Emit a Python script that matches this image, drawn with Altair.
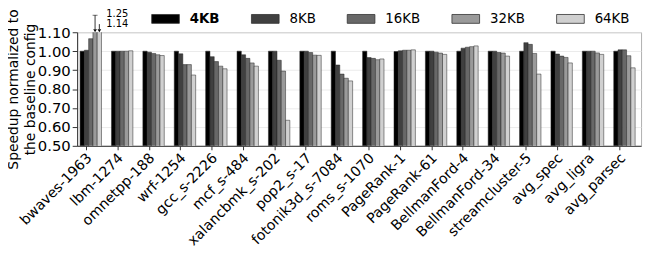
import altair as alt
import pandas as pd

categories = ["bwaves-1963", "lbm-1274", "omnetpp-188", "wrf-1254", "gcc_s-2226",
              "mcf_s-484", "xalancbmk_s-202", "pop2_s-17", "fotonik3d_s-7084",
              "roms_s-1070", "PageRank-1", "PageRank-61", "BellmanFord-4",
              "BellmanFord-34", "streamcluster-5", "avg_spec", "avg_ligra", "avg_parsec"]
series = ["4KB", "8KB", "16KB", "32KB", "64KB"]
v4 = [1.0, 1.0, 1.0, 1.0, 1.0, 1.0, 1.0, 1.0, 1.0, 1.0, 0.998, 1.0, 1.0, 1.0, 1.0, 1.0, 1.0, 1.0]
v8 = [1.005, 1.0, 0.995, 0.986, 0.971, 0.981, 1.0, 1.0, 0.927, 0.966, 1.002, 1.0, 1.016, 1.0, 1.045, 0.985, 1.0, 1.007]
v16 = [1.066, 1.0, 0.988, 0.929, 0.945, 0.962, 0.952, 0.993, 0.879, 0.962, 1.005, 0.995, 1.021, 0.993, 1.036, 0.974, 1.0, 1.007]
v32 = [1.25, 1.0, 0.981, 0.929, 0.921, 0.938, 0.895, 0.979, 0.857, 0.955, 1.005, 0.99, 1.024, 0.99, 0.988, 0.967, 0.991, 0.976]
v64 = [1.14, 1.002, 0.977, 0.874, 0.907, 0.921, 0.635, 0.978, 0.843, 0.959, 1.007, 0.983, 1.028, 0.974, 0.879, 0.938, 0.983, 0.912]
colors = ["#000000", "#404040", "#686868", "#9a9a9a", "#d0d0d0"]
y_ticks = [0.5, 0.6, 0.7, 0.8, 0.9, 1.0, 1.1]

# clipped-bar annotations
ann_labels = ["1.25", "1.14"]
ann_series = ["64KB", "64KB"]
ann_y = [1.197, 1.143]

rows = []
for s, vals in zip(series, [v4, v8, v16, v32, v64]):
    for c, v in zip(categories, vals):
        rows.append({"bench": c, "cfg": s, "value": v})
df = pd.DataFrame(rows)

FONT = "DejaVu Sans"
y_scale = alt.Scale(domain=[0.5, 1.1], nice=False)
x_scale = alt.Scale(paddingInner=0.318, paddingOuter=0.1414, align=0.333)

x_axis = alt.Axis(title=None, labelAngle=-45, labelAlign="right",
                  labelBaseline="top", bandPosition=0.3, labelFontSize=14.3,
                  labelPadding=1, labelOffset=-6, labelLimit=300, tickSize=4,
                  domainColor="#333", tickColor="#333", labelColor="black")
y_axis = alt.Axis(values=y_ticks, format=".2f", labelOverlap=False,
                  title=["Speedup normalized to", "the baseline config"],
                  titleFontSize=14, titleFontWeight="normal", titlePadding=0,
                  titleColor="black", titleLineHeight=17,
                  labelFontSize=15, labelColor="black", labelPadding=2,
                  labelFlush=False,
                  tickSize=5, tickColor="#333", domainColor="#333",
                  grid=True, gridColor="#e6e6e6", gridWidth=0.8)

x_enc = alt.X("bench:N", sort=categories, scale=x_scale, axis=x_axis)
xo_enc = alt.XOffset("cfg:N", sort=series, scale=alt.Scale(paddingInner=0, paddingOuter=0))


def yq(field):
    return alt.Y(field, type="quantitative", scale=y_scale, axis=y_axis)


bars = alt.Chart(df).mark_bar(stroke="#222", strokeWidth=0.5, clip=True).encode(
    x=x_enc,
    xOffset=xo_enc,
    y=yq("value"),
    color=alt.Color("cfg:N", sort=series,
                    scale=alt.Scale(domain=series, range=colors),
                    legend=alt.Legend(title=None, orient="none", direction="horizontal",
                                      legendX=75, legendY=-28, padding=0,
                                      symbolType="M-1,-0.32L1,-0.32L1,0.32L-1,0.32Z",
                                      symbolSize=784, symbolStrokeColor="#333",
                                      symbolStrokeWidth=0.8, symbolOpacity=1,
                                      labelFontSize=13.5, labelColor="black",
                                      labelOffset=10, columnPadding=29,
                                      labelFontWeight={"expr": "datum.label === '4KB' ? 'bold' : 'normal'"})),
)

ann_df = pd.DataFrame({"bench": [categories[0]] * 2, "cfg": ann_series,
                       "label": ann_labels, "y": ann_y})
ann_text = alt.Chart(ann_df).mark_text(align="left", baseline="middle", dx=7,
                                       fontSize=10, font=FONT, color="black").encode(
    x=x_enc, xOffset=xo_enc, y=yq("y"), text="label:N")

arrow_df = pd.DataFrame({"bench": [categories[0]] * 2, "cfg": ["32KB", "64KB"],
                         "y1": [1.117, 1.117], "y2": [1.19, 1.143], "tip": [1.108, 1.108]})
arrow_lines = alt.Chart(arrow_df).mark_rule(color="black", strokeWidth=0.8).encode(
    x=x_enc, xOffset=xo_enc, y=yq("y1"), y2="y2:Q")
arrow_tips = alt.Chart(arrow_df).mark_point(shape="triangle-down", filled=True,
                                            color="black", size=14, opacity=1).encode(
    x=x_enc, xOffset=xo_enc, y=yq("tip"))
hook = alt.Chart(arrow_df.iloc[[0]]).mark_tick(orient="horizontal", size=5, thickness=0.8,
                                               color="black", xOffset=2.5).encode(
    x=x_enc, xOffset=xo_enc, y=yq("y2"))

chart = alt.layer(bars, arrow_lines, arrow_tips, hook, ann_text).properties(
    width=571, height=115,
    autosize=alt.AutoSizeParams(type="none"),
    padding={"left": 70, "top": 23, "right": 5, "bottom": 110},
).configure(font=FONT).configure_view(stroke="#b0b0b0", strokeWidth=1
).configure_axis(labelFont=FONT, titleFont=FONT)

chart.save("out.html", embed_options={"renderer": "svg", "actions": False})
